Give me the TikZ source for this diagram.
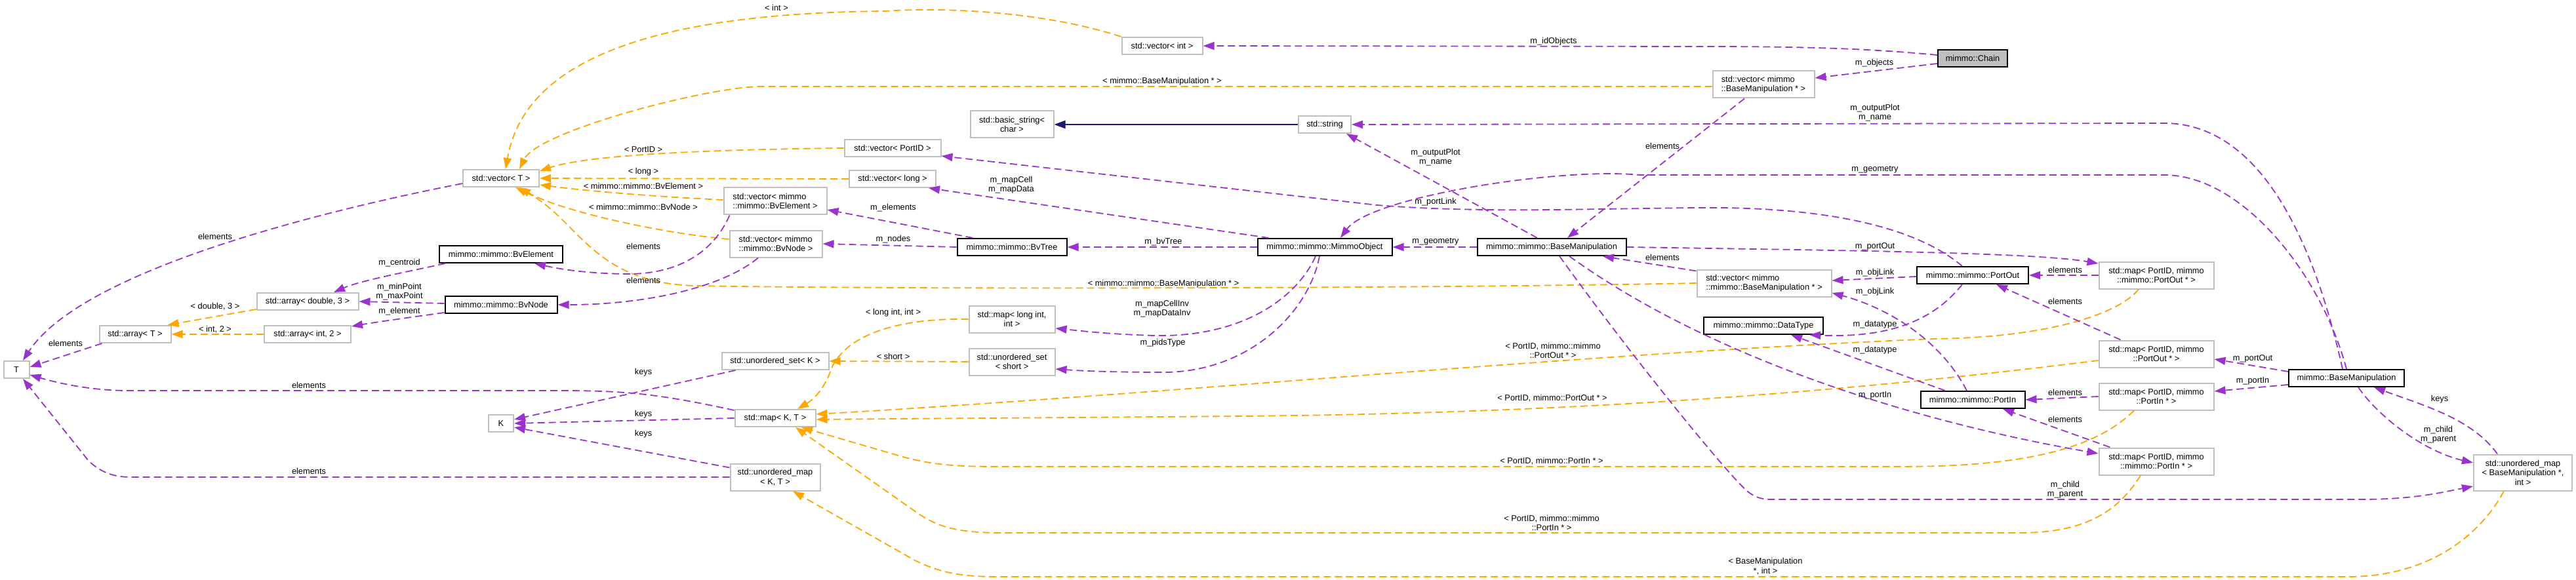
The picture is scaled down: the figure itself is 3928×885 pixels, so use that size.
\documentclass[tikz,border=0pt]{standalone}
\usepackage{fontspec}
\setmainfont{Liberation Sans}
\usetikzlibrary{arrows.meta}
\definecolor{purp}{HTML}{9A32CD}
\definecolor{orng}{HTML}{FFA500}
\definecolor{navyb}{HTML}{191970}
\definecolor{greyb}{HTML}{BFBFBF}
\newcommand\dxfont{\fontsize{12.8}{14.5}\selectfont}
\tikzset{
 box/.style={rectangle, fill=white, minimum height=26pt, inner xsep=5pt, inner ysep=4pt, font=\dxfont, align=center, line width=2pt},
 cls/.style={box, draw=black},
 ext/.style={box, draw=greyb},
 two/.style={minimum height=41pt},
 lbl/.style={font=\dxfont, inner sep=0pt, align=center},
 usage/.style={draw=purp, line width=1.8pt, dash pattern=on 11pt off 6pt, -{Triangle[length=17pt,width=12pt]}},
 tmpl/.style={usage, draw=orng},
 inher/.style={draw=navyb, line width=2.5pt, -{Triangle[length=17pt,width=12pt]}},
}
\begin{document}
\begin{tikzpicture}[x=1pt,y=-1pt]
\useasboundingbox (0,0) rectangle (3928,885);
% ---------- nodes ----------
\node[ext, minimum width=123pt] (vecint) at (1772,70) {std::vector< int >};
\node[cls, fill=greyb, minimum width=106pt] (chain) at (3008,89) {mimmo::Chain};
\node[ext, two, align=left, minimum width=155pt] (vecBM) at (2689,129) {std::vector< mimmo\\::BaseManipulation * >};
\node[ext, two, minimum width=127pt] (basicstr) at (1543,190) {std::basic\_string<\\char >};
\node[ext, minimum width=80pt] (str) at (2020,190) {std::string};
\node[ext, minimum width=147pt] (vecPortID) at (1361,226) {std::vector< PortID >};
\node[ext, minimum width=132pt] (veclong) at (1361,273) {std::vector< long >};
\node[ext, minimum width=116pt] (vecT) at (764,272) {std::vector< T >};
\node[ext, two, align=left, minimum width=157pt] (vecBvE) at (1182,307) {std::vector< mimmo\\::mimmo::BvElement >};
\node[ext, two, align=left, minimum width=141pt] (vecBvN) at (1183,372) {std::vector< mimmo\\::mimmo::BvNode >};
\node[cls, minimum width=188pt] (bvElem) at (764,388) {mimmo::mimmo::BvElement};
\node[cls, minimum width=171pt] (bvNode) at (764,465) {mimmo::mimmo::BvNode};
\node[cls, minimum width=167pt] (bvTree) at (1543,377) {mimmo::mimmo::BvTree};
\node[cls, minimum width=205pt] (mimmoObj) at (2020,377) {mimmo::mimmo::MimmoObject};
\node[cls, minimum width=227pt] (mmBM) at (2366,377) {mimmo::mimmo::BaseManipulation};
\node[ext, minimum width=155pt] (arrD3) at (469,460) {std::array< double, 3 >};
\node[ext, minimum width=132pt] (arrI2) at (469,510) {std::array< int, 2 >};
\node[ext, minimum width=109pt] (arrT) at (206,510) {std::array< T >};
\node[ext, minimum width=39pt] (nT) at (25,564) {T};
\node[ext, minimum width=38pt] (nK) at (764,646) {K};
\node[ext, minimum width=163pt] (usetK) at (1182,551) {std::unordered\_set< K >};
\node[ext, two, minimum width=131pt] (mapLI) at (1543,487) {std::map< long int,\\int >};
\node[ext, two, minimum width=131pt] (usetS) at (1543,552) {std::unordered\_set\\< short >};
\node[ext, minimum width=123pt] (mapKT) at (1182,638) {std::map< K, T >};
\node[ext, two, minimum width=137pt] (umapKT) at (1182,728) {std::unordered\_map\\< K, T >};
\node[ext, two, align=left, minimum width=205pt] (vecMMBM) at (2690,432) {std::vector< mimmo\\::mimmo::BaseManipulation * >};
\node[cls, minimum width=170pt] (portOut) at (3008,420) {mimmo::mimmo::PortOut};
\node[cls, minimum width=182pt] (dataType) at (2689,497) {mimmo::mimmo::DataType};
\node[cls, minimum width=159pt] (portIn) at (3008,610) {mimmo::mimmo::PortIn};
\node[ext, two, minimum width=175pt] (mapPOmm) at (3288,420) {std::map< PortID, mimmo\\::mimmo::PortOut * >};
\node[ext, two, minimum width=175pt] (mapPO) at (3288,540) {std::map< PortID, mimmo\\::PortOut * >};
\node[ext, two, minimum width=175pt] (mapPI) at (3288,605) {std::map< PortID, mimmo\\::PortIn * >};
\node[ext, two, minimum width=175pt] (mapPImm) at (3288,704) {std::map< PortID, mimmo\\::mimmo::PortIn * >};
\node[cls, minimum width=176pt] (BM) at (3578,577) {mimmo::BaseManipulation};
\node[ext, minimum height=55pt, minimum width=150pt] (umapBM) at (3847,721) {std::unordered\_map\\< BaseManipulation *,\\int >};
% ---------- template edges ----------
\draw[tmpl] (vecint.north west) .. controls (1600,20) and (1450,10) .. (1349,17) .. controls (1000,20) and (800,90) .. ([xshift=7pt]vecT.north);
\draw[tmpl] ([yshift=-3pt]vecBM.west) -- (1161,132) .. controls (1080,132) and (820,200) .. ([xshift=28pt]vecT.north);
\draw[tmpl] (vecPortID.west) .. controls (1100,228) and (900,235) .. ([yshift=-3pt]vecT.north east);
\draw[tmpl] (veclong.west) -- (vecT.east);
\draw[tmpl] ([yshift=2pt]vecBvE.west) .. controls (1000,300) and (900,292) .. ([yshift=-10pt]vecT.east);
\draw[tmpl] ([yshift=7pt]vecBvN.west) .. controls (1000,355) and (850,320) .. ([xshift=28pt]vecT.south);
\draw[tmpl] (vecMMBM.west) .. controls (2200,440) and (1400,442) .. (1060,436) .. controls (900,432) and (880,330) .. ([xshift=22pt]vecT.south);
\draw[tmpl] ([yshift=2pt]arrD3.south west) -- ([xshift=-6pt]arrT.north east);
\draw[tmpl] (arrI2.west) -- (arrT.east);
\draw[tmpl] (mapLI.west) .. controls (1350,485) and (1280,520) .. (1265,570) .. controls (1255,595) and (1240,610) .. ([xshift=34pt]mapKT.north);
\draw[tmpl] (usetS.west) -- (usetK.east);
\draw[tmpl] ([xshift=-27pt]mapPOmm.south) .. controls (3230,480) and (3120,515) .. (2950,517) .. controls (2400,540) and (1800,600) .. ([yshift=6pt]mapKT.east);
\draw[tmpl] ([yshift=-10pt]mapPO.west) .. controls (2800,600) and (2400,630) .. (1900,635) -- ([yshift=-2pt]mapKT.east);
\draw[tmpl] ([xshift=-34pt]mapPI.south) .. controls (3200,680) and (3100,712) .. (2900,712) -- (1520,712) .. controls (1450,712) and (1420,708) .. (1380,698) -- ([xshift=40pt]mapKT.south);
\draw[tmpl] ([xshift=-24pt]mapPImm.south) .. controls (3230,780) and (3180,813) .. (3080,813) -- (1530,813) .. controls (1460,813) and (1430,805) .. (1395,780) -- ([xshift=31pt]mapKT.south);
\draw[tmpl] ([xshift=-29pt]umapBM.south) .. controls (3780,820) and (3700,880) .. (3580,880) -- (1520,880) .. controls (1460,880) and (1430,872) .. (1395,855) -- ([xshift=27pt]umapKT.south);
% ---------- usage edges ----------
\draw[usage] ([yshift=-8pt]vecT.west) .. controls (450,330) and (120,420) .. ([xshift=10pt]nT.north);
\draw[usage] ([xshift=5pt]arrT.south west) -- ([yshift=4pt]nT.east);
\draw[usage] ([yshift=-2pt]mapKT.north west) .. controls (1000,600) and (950,596) .. (850,596) -- (195,596) .. controls (140,596) and (90,585) .. ([yshift=-8pt]nT.east);
\draw[usage] (umapKT.west) -- (200,728) .. controls (175,728) and (155,722) .. (135,703) -- ([xshift=10pt]nT.south);
\draw[usage] ([xshift=22pt]usetK.south west) -- ([yshift=6pt]nK.east);
\draw[usage] (mapKT.west) -- (nK.east);
\draw[usage] ([yshift=-7pt]umapKT.north west) -- ([yshift=-6pt]nK.east);
\draw[usage] ([xshift=10pt]bvElem.south west) .. controls (620,415) and (550,428) .. ([xshift=40pt]arrD3.north);
\draw[usage] ([yshift=2pt]bvNode.west) -- (arrD3.east);
\draw[usage] ([yshift=2pt]bvNode.south west) .. controls (620,485) and (570,492) .. ([yshift=-2pt]arrI2.north east);
\draw[usage] ([xshift=10pt]vecBvE.south west) .. controls (1090,380) and (1040,420) .. (950,418) .. controls (900,417) and (860,412) .. ([xshift=-44pt]bvElem.south east);
\draw[usage] ([xshift=-27pt]vecBvN.south) .. controls (1100,440) and (980,465) .. (bvNode.east);
\draw[usage] ([xshift=25pt]bvTree.north west) -- ([yshift=-13pt]vecBvE.east);
\draw[usage] (bvTree.west) -- (vecBvN.east);
\draw[usage] (mimmoObj.west) -- (bvTree.east);
\draw[usage] ([xshift=18pt]mimmoObj.north west) -- ([xshift=-12pt]veclong.south east);
\draw[usage] ([xshift=-14pt]mimmoObj.south) .. controls (1980,450) and (1900,515) .. (1760,512) .. controls (1690,510) and (1650,505) .. ([yshift=-14pt]mapLI.east);
\draw[usage] ([xshift=-8pt]mimmoObj.south) .. controls (1995,480) and (1900,570) .. (1770,568) .. controls (1700,568) and (1650,566) .. ([yshift=-11pt]usetS.east);
\draw[usage] (mmBM.west) -- (mimmoObj.east);
\draw[usage] ([xshift=-22pt]mmBM.north) -- ([xshift=-8pt]str.south east);
\draw[usage] ([yshift=-3pt]vecMMBM.north west) -- ([xshift=78pt]mmBM.south);
\draw[usage] ([xshift=-29pt]vecBM.south) -- ([xshift=24pt]mmBM.north);
\draw[usage] (mmBM.east) .. controls (2800,382) and (3100,385) .. ([yshift=18pt]mapPOmm.west);
\draw[usage] ([xshift=27pt]mmBM.south) .. controls (2600,540) and (2900,640) .. ([yshift=12pt]mapPImm.west);
\draw[usage] ([xshift=12pt]mmBM.south) .. controls (2500,560) and (2640,730) .. (2665,750) .. controls (2675,758) and (2685,762) .. (2700,762) -- (3600,762) .. controls (3680,762) and (3720,752) .. ([yshift=-21pt]umapBM.west);
\draw[usage] ([xshift=-6pt]BM.north) .. controls (3520,330) and (3430,188) .. (3300,188) -- (str.east);
\draw[usage] (BM.north) .. controls (3540,420) and (3420,267) .. (3300,267) -- (2500,267) .. controls (2380,255) and (2090,300) .. ([xshift=24pt]mimmoObj.north);
\draw[usage] ([yshift=10pt]BM.west) -- ([yshift=-8pt]mapPO.east);
\draw[usage] ([yshift=-10pt]BM.west) -- ([yshift=8pt]mapPI.east);
\draw[usage] ([xshift=18pt]BM.south) .. controls (3630,640) and (3700,690) .. ([yshift=15pt]umapBM.west);
\draw[usage] ([xshift=-39pt]umapBM.north) .. controls (3770,640) and (3700,620) .. ([xshift=42pt]BM.south);
\draw[usage] (mapPOmm.west) -- (portOut.east);
\draw[usage] ([xshift=34pt]mapPO.north west) -- ([xshift=36pt]portOut.south);
\draw[usage] (mapPI.west) -- (portIn.east);
\draw[usage] ([xshift=18pt]mapPImm.north west) -- ([xshift=46pt]portIn.south);
\draw[usage] ([xshift=-16pt]portOut.north) .. controls (2920,345) and (2780,315) .. (2588,317) .. controls (2400,319) and (2250,325) .. (2100,313) -- ([yshift=2pt]vecPortID.south east);
\draw[usage] ([yshift=-2pt]portOut.west) -- ([yshift=4pt]vecMMBM.east);
\draw[usage] ([xshift=-9pt]portIn.north) .. controls (2960,520) and (2880,470) .. ([yshift=-15pt]vecMMBM.east);
\draw[usage] ([xshift=-16pt]portOut.south) .. controls (2940,500) and (2860,515) .. ([xshift=-22pt]dataType.south east);
\draw[usage] ([xshift=-42pt]portIn.north) -- ([xshift=42pt]dataType.south);
\draw[usage] ([yshift=5pt]chain.west) .. controls (2850,74) and (2750,71) .. (2600,71) -- (vecint.east);
\draw[usage] ([yshift=-8pt]chain.west) -- ([yshift=10pt]vecBM.east);
\draw[inher] (str.west) -- (basicstr.east);
% ---------- labels ----------
\node[lbl] (l1) at (1184,12) {< int >};
\node[lbl] (l2) at (2369,63) {m\_idObjects};
\node[lbl] (l3) at (1772,124) {< mimmo::BaseManipulation * >};
\node[lbl] (l4) at (2858,96) {m\_objects};
\node[lbl] (l5) at (2859,172) {m\_outputPlot\\m\_name};
\node[lbl] (l6) at (981,228) {< PortID >};
\node[lbl] (l7) at (981,262) {< long >};
\node[lbl] (l8) at (981,284) {< mimmo::mimmo::BvElement >};
\node[lbl] (l9) at (981,316) {< mimmo::mimmo::BvNode >};
\node[lbl] (l10) at (2189,240) {m\_outputPlot\\m\_name};
\node[lbl] (l11) at (1542,282) {m\_mapCell\\m\_mapData};
\node[lbl] (l12) at (1362,317) {m\_elements};
\node[lbl] (l13) at (1362,365) {m\_nodes};
\node[lbl] (l14) at (1774,369) {m\_bvTree};
\node[lbl] (l15) at (2189,369) {m\_geometry};
\node[lbl] (l16) at (2859,259) {m\_geometry};
\node[lbl] (l17) at (2535,223) {elements};
\node[lbl] (l18) at (2189,308) {m\_portLink};
\node[lbl] (l19) at (2859,376) {m\_portOut};
\node[lbl] (l20) at (2535,393) {elements};
\node[lbl] (l21) at (2859,416) {m\_objLink};
\node[lbl] (l22) at (2859,445) {m\_objLink};
\node[lbl] (l23) at (2859,495) {m\_datatype};
\node[lbl] (l24) at (2859,534) {m\_datatype};
\node[lbl] (l25) at (2368,535) {< PortID, mimmo::mimmo\\::PortOut * >};
\node[lbl] (l26) at (2367,608) {< PortID, mimmo::PortOut * >};
\node[lbl] (l27) at (2859,603) {m\_portIn};
\node[lbl] (l28) at (2366,704) {< PortID, mimmo::PortIn * >};
\node[lbl] (l29) at (2366,798) {< PortID, mimmo::mimmo\\::PortIn * >};
\node[lbl] (l30) at (2692,864) {< BaseManipulation\\*, int >};
\node[lbl] (l31) at (3149,747) {m\_child\\m\_parent};
\node[lbl] (l32) at (3149,412) {elements};
\node[lbl] (l33) at (3149,460) {elements};
\node[lbl] (l34) at (3149,599) {elements};
\node[lbl] (l35) at (3149,640) {elements};
\node[lbl] (l36) at (3435,547) {m\_portOut};
\node[lbl] (l37) at (3435,581) {m\_portIn};
\node[lbl] (l38) at (3720,609) {keys};
\node[lbl] (l39) at (3718,663) {m\_child\\m\_parent};
\node[lbl] (l40) at (1774,433) {< mimmo::mimmo::BaseManipulation * >};
\node[lbl] (l41) at (1362,477) {< long int, int >};
\node[lbl] (l42) at (1362,544) {< short >};
\node[lbl] (l43) at (1772,471) {m\_mapCellInv\\m\_mapDataInv};
\node[lbl] (l44) at (1773,523) {m\_pidsType};
\node[lbl] (l45) at (328,361) {elements};
\node[lbl] (l46) at (609,401) {m\_centroid};
\node[lbl] (l47) at (609,445) {m\_minPoint\\m\_maxPoint};
\node[lbl] (l48) at (609,475) {m\_element};
\node[lbl] (l49) at (328,468) {< double, 3 >};
\node[lbl] (l50) at (328,503) {< int, 2 >};
\node[lbl] (l51) at (100,524) {elements};
\node[lbl] (l52) at (471,588) {elements};
\node[lbl] (l53) at (981,376) {elements};
\node[lbl] (l54) at (981,428) {elements};
\node[lbl] (l55) at (981,568) {keys};
\node[lbl] (l56) at (981,632) {keys};
\node[lbl] (l57) at (981,662) {keys};
\node[lbl] (l58) at (471,719) {elements};
\end{tikzpicture}
\end{document}
